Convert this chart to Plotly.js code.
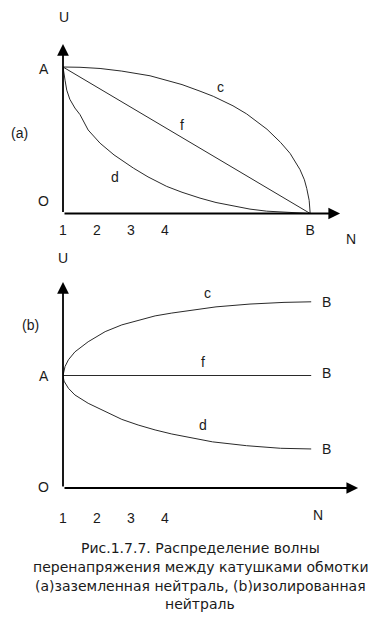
<!DOCTYPE html>
<html><head><meta charset="utf-8">
<script src="https://cdn.plot.ly/plotly-3.0.1.min.js"></script>
<style>html,body{margin:0;padding:0;background:#fff}#chart{width:380px;height:623px}</style>
</head><body><div id="chart"></div>
<script>
// ---- data (N = coil number, U = voltage; O = 0, A = 1) ----
const tickVals = [1, 2, 3, 4];
const tickText = ['1', '2', '3', '4'];
const nB = 8.27;          // position of the last coil, B

// (a) grounded neutral
const aC_x = [1, 1.5, 2.09, 2.73, 3.56, 4.5, 5.03, 5.42, 6.0, 6.4, 7.0, 7.4, 7.68, 7.97, 8.1, 8.17, 8.24, 8.27];
const aC_y = [1, 0.998, 0.99, 0.972, 0.94, 0.88, 0.835, 0.8, 0.735, 0.68, 0.575, 0.485, 0.41, 0.3, 0.23, 0.17, 0.09, 0];
const aF_x = [1, 8.27];
const aF_y = [1, 0];
const aD_x = [1, 1.02, 1.06, 1.11, 1.2, 1.35, 1.5, 1.74, 2.09, 2.5, 3.07, 3.5, 4.05, 4.5, 5.03, 5.5, 6.01, 6.5, 6.99, 7.5, 7.97, 8.27];
const aD_y = [1, 0.96, 0.91, 0.842, 0.78, 0.72, 0.675, 0.57, 0.48, 0.4, 0.31, 0.25, 0.185, 0.145, 0.105, 0.075, 0.05, 0.03, 0.016, 0.008, 0.004, 0];

// (b) isolated neutral
const bC_x = [1, 1.02, 1.06, 1.16, 1.35, 1.74, 2.24, 2.73, 3.21, 3.71, 4.2, 4.83, 5.5, 6.5, 7.5, 8.3];
const bC_y = [1, 1.04, 1.08, 1.14, 1.21, 1.3, 1.39, 1.45, 1.49, 1.53, 1.555, 1.58, 1.61, 1.635, 1.65, 1.655];
const bF_x = [1, 8.3];
const bF_y = [1, 1];
const bD_x = [1, 1.03, 1.16, 1.35, 1.74, 2.24, 2.73, 3.21, 3.71, 4.2, 4.83, 5.4, 6.4, 7.4, 8.3];
const bD_y = [1, 0.95, 0.886, 0.827, 0.753, 0.678, 0.61, 0.56, 0.516, 0.48, 0.44, 0.41, 0.376, 0.353, 0.347];

const captionLines = [
  'Рис.1.7.7. Распределение волны',
  'перенапряжения между катушками обмотки',
  '(а)заземленная нейтраль, (b)изолированная',
  'нейтраль'
];

// ---- styling ----
const FONT = 'Arial, "Liberation Sans", sans-serif';
const CAPFONT = '"DejaVu Sans", Arial, sans-serif';
const TXT = '#1a1a1a';
const lineStyle = {color: '#2a2a2a', width: 1};

function tr(x, y, xa, ya) {
  return {x: x, y: y, xaxis: xa, yaxis: ya, type: 'scatter', mode: 'lines',
          line: lineStyle, hoverinfo: 'skip', showlegend: false};
}
const data = [
  tr(aC_x, aC_y, 'x', 'y'), tr(aF_x, aF_y, 'x', 'y'), tr(aD_x, aD_y, 'x', 'y'),
  tr(bC_x, bC_y, 'x2', 'y2'), tr(bF_x, bF_y, 'x2', 'y2'), tr(bD_x, bD_y, 'x2', 'y2')
];

function arrow(xr, yr, x, y, ax, ay) {
  return {xref: xr, yref: yr, axref: xr, ayref: yr, x: x, y: y, ax: ax, ay: ay,
          text: '', showarrow: true, arrowhead: 2, arrowsize: 1.3, arrowwidth: 1.8,
          arrowcolor: '#000', standoff: 0, startstandoff: 0};
}
function lbl(text, xr, yr, x, y, extra) {
  return Object.assign({xref: xr, yref: yr, x: x, y: y, text: text, showarrow: false,
          font: {family: FONT, size: 14, color: TXT}, xanchor: 'center', yanchor: 'middle'}, extra || {});
}
const px = v => v / 380;
const py = v => 1 - v / 623;

const annotations = [
  // axes (a)
  arrow('x', 'y', 1, 1.157, 1, 0),
  arrow('x', 'y', 9.15, 0, 1, 0),
  // axes (b)
  arrow('x2', 'y2', 1, 1.831, 1, 0),
  arrow('x2', 'y2', 9.68, 0, 1, 0),
  // (a) labels
  lbl('U', 'paper', 'paper', px(64), py(17)),
  lbl('A', 'paper', 'y', px(44), 1, {yshift: -2}),
  lbl('(a)', 'paper', 'paper', px(19), py(133)),
  lbl('O', 'paper', 'y', px(43), 0, {yshift: 12}),
  lbl('N', 'paper', 'paper', px(351), py(239)),
  lbl('c', 'x', 'y', 5.62, 0.863),
  lbl('f', 'x', 'y', 4.5, 0.604),
  lbl('d', 'x', 'y', 2.53, 0.249),
  // (b) labels
  lbl('U', 'paper', 'paper', px(63), py(258)),
  lbl('(b)', 'paper', 'paper', px(30), py(325)),
  lbl('A', 'paper', 'y2', px(44), 1),
  lbl('O', 'paper', 'y2', px(43), 0, {yshift: 1}),
  lbl('N', 'paper', 'paper', px(318), py(515)),
  lbl('c', 'x2', 'y2', 5.24, 1.733),
  lbl('f', 'x2', 'y2', 5.12, 1.123),
  lbl('d', 'x2', 'y2', 5.12, 0.56),
  lbl('B', 'x2', 'y2', 8.75, bC_y[bC_y.length - 1]),
  lbl('B', 'x2', 'y2', 8.75, bF_y[bF_y.length - 1], {yshift: 3}),
  lbl('B', 'x2', 'y2', 8.75, bD_y[bD_y.length - 1])
];
const capY = [548, 567, 586, 604];
captionLines.forEach((t, i) => annotations.push(lbl(t, 'paper', 'paper', px(200), py(capY[i]),
  {font: {family: CAPFONT, size: 14, color: TXT}})));

const axBase = {showgrid: false, zeroline: false, showline: false, ticks: '', fixedrange: true,
                tickfont: {family: FONT, size: 14, color: TXT}};
const layout = {
  width: 380, height: 623,
  margin: {l: 0, r: 0, t: 0, b: 0},
  paper_bgcolor: '#fff', plot_bgcolor: 'rgba(0,0,0,0)',
  showlegend: false,
  xaxis: Object.assign({}, axBase, {domain: [px(63), px(343)], range: [1, 1 + 280 / 34],
          tickmode: 'array', tickvals: tickVals.concat([nB]), ticktext: tickText.concat(['B']),
          anchor: 'y', ticklabelstandoff: 6}),
  yaxis: Object.assign({}, axBase, {domain: [py(213.5), py(40)], range: [0, 173.5 / 146.5],
          showticklabels: false, anchor: 'x'}),
  xaxis2: Object.assign({}, axBase, {domain: [px(63), px(363)], range: [1, 1 + 300 / 34],
          tickmode: 'array', tickvals: tickVals, ticktext: tickText,
          anchor: 'y2', ticklabelstandoff: 20}),
  yaxis2: Object.assign({}, axBase, {domain: [py(488), py(278)], range: [0, 210 / 112.5],
          showticklabels: false, anchor: 'x2'}),
  annotations: annotations
};
Plotly.newPlot('chart', data, layout, {staticPlot: true, displayModeBar: false});
</script></body></html>
